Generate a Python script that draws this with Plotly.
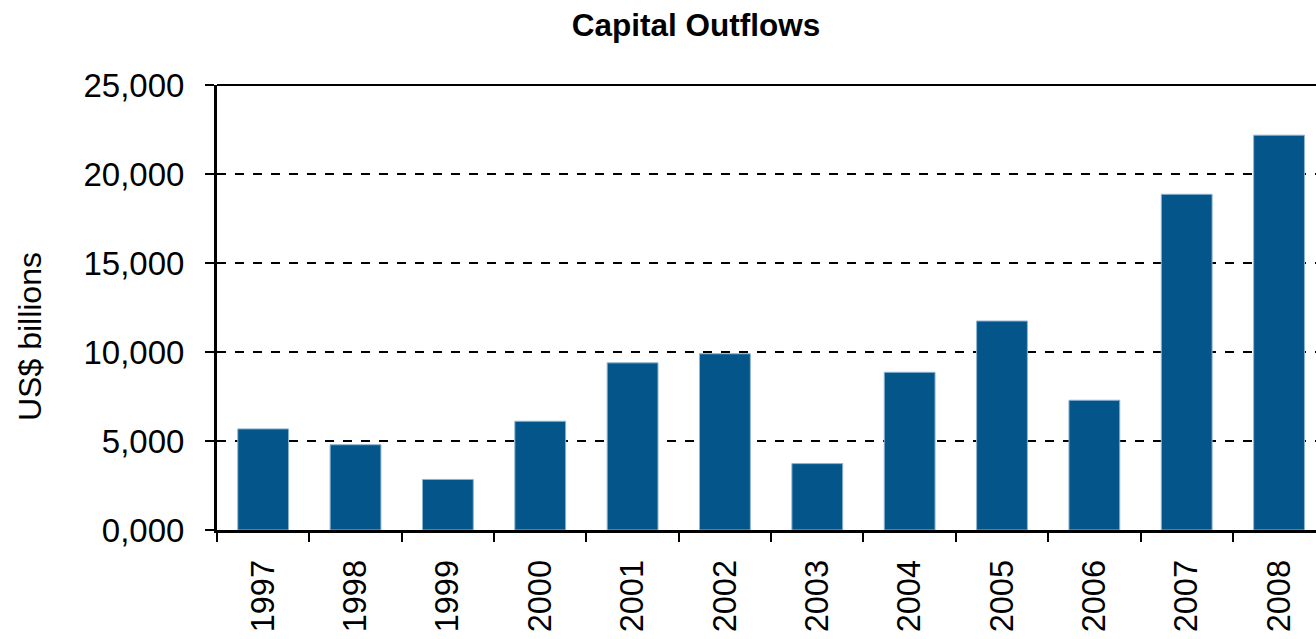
import plotly.graph_objects as go

years = ["1997", "1998", "1999", "2000", "2001", "2002", "2003", "2004", "2005", "2006", "2007", "2008"]
outflows = [5680, 4790, 2840, 6110, 9390, 9900, 3730, 8860, 11740, 7290, 18860, 22180]
y_tick_vals = [0, 5000, 10000, 15000, 20000, 25000]
y_tick_text = ["0,000", "5,000", "10,000", "15,000", "20,000", "25,000"]

W, H = 1316, 639
ML, MR, MT, MB = 217, 0, 85, 109
FONT = "Liberation Sans, Arial, sans-serif"

fig = go.Figure(
    go.Bar(
        x=years,
        y=outflows,
        marker=dict(color="#03558A", line=dict(color="#8db3d1", width=1)),
    )
)

fig.update_layout(
    width=W,
    height=H,
    margin=dict(l=ML, r=MR, t=MT, b=MB),
    paper_bgcolor="white",
    plot_bgcolor="white",
    bargap=0.45,
    showlegend=False,
    font=dict(family=FONT, color="black"),
    title=dict(
        text="<b>Capital Outflows</b>",
        font=dict(family=FONT, size=31.5, color="black"),
        x=696 / W,
        xref="container",
        xanchor="center",
        y=1 - 25 / H,
        yref="container",
        yanchor="middle",
    ),
)

fig.update_xaxes(
    type="category",
    range=[-0.5, 11.4],
    showline=True,
    linecolor="black",
    linewidth=3,
    ticks="outside",
    tickson="boundaries",
    ticklen=9,
    tickwidth=2,
    tickcolor="black",
    tickangle=-90,
    tickfont=dict(family=FONT, size=32.5, color="black"),
    ticklabelstandoff=14,
    showgrid=False,
)

fig.update_yaxes(
    range=[0, 25000],
    tickvals=y_tick_vals,
    ticktext=y_tick_text,
    showline=True,
    linecolor="black",
    linewidth=3,
    ticks="outside",
    ticklen=9,
    tickwidth=2,
    tickcolor="black",
    tickfont=dict(family=FONT, size=33, color="black"),
    ticklabelstandoff=14,
    showgrid=True,
    gridcolor="black",
    gridwidth=2,
    griddash="dash",
    zeroline=False,
)

# solid top border line at 25,000
fig.add_shape(
    type="line", xref="paper", yref="paper", x0=0, x1=1, y0=1, y1=1,
    line=dict(color="black", width=2),
)

fig.add_annotation(
    text="US$ billions",
    xref="paper",
    yref="paper",
    x=(30 - ML) / (W - ML - MR),
    y=(H - MB - 337) / (H - MT - MB),
    xanchor="center",
    yanchor="middle",
    textangle=-90,
    showarrow=False,
    font=dict(family=FONT, size=32, color="black"),
)

fig.write_html(
    "out.html",
    config={"displayModeBar": False},
    post_script="document.body.style.margin='0';document.body.style.overflow='hidden';",
)
